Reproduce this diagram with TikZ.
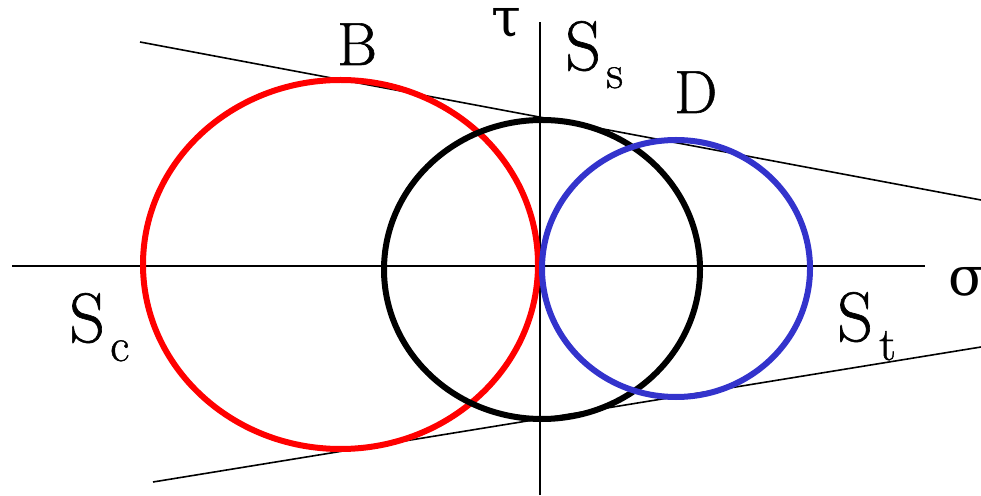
\documentclass[tikz,border=0pt]{standalone}
\usepackage{fontspec}
\newfontfamily\gserif{DejaVu Serif}
\newfontfamily\lmserif[FakeBold=0.9]{Latin Modern Roman}
\definecolor{blueC}{RGB}{51,51,204}
\definecolor{redC}{RGB}{255,0,0}
\begin{document}
\begin{tikzpicture}[x=1pt,y=1pt,
  thinline/.style={line width=1.6pt,black},
  circ/.style={line width=6pt},
  lbl/.style={inner sep=0pt,anchor=base west,font=\lmserif\fontsize{61}{70}\selectfont},
  glbl/.style={inner sep=0pt,anchor=base west,font=\gserif\fontsize{54}{62}\selectfont},
  slbl/.style={inner sep=0pt,anchor=base west,font=\lmserif\fontsize{70}{80}\selectfont},
  sub/.style={inner sep=0pt,anchor=base west,font=\lmserif\fontsize{47}{50}\selectfont}]
\useasboundingbox (0,0) rectangle (981,495);
% axes
\coordinate (hl) at (12,228.7);
\coordinate (hr) at (925,228.7);
\coordinate (vt) at (540,473);
\coordinate (vb) at (540,0);
\draw[thinline] (hl) -- (hr);
\draw[thinline] (vb) -- (vt);
% tangent lines
\coordinate (u1) at (140,453);
\coordinate (u2) at (981,295);
\coordinate (l1) at (153,13);
\coordinate (l2) at (981,148);
\draw[thinline] (u1) -- (u2);
\draw[thinline] (l1) -- (l2);
% circles
\draw[circ,redC] (340.5,230.5) ellipse [x radius=197.5pt, y radius=184.5pt];
\draw[circ,black] (542,225.5) ellipse [x radius=158pt, y radius=149.5pt];
\draw[circ,blueC] (676,226.5) ellipse [x radius=134pt, y radius=128.5pt];
% labels
\node[lbl] (B) at (337,430) {B};
\node[lbl] (D) at (674,382) {D};
\node[glbl] (tau) at (491,458) {τ};
\node[glbl] (sigma) at (948,199) {σ};
\node[slbl] (Ss) at (565,425) {S};
\node[sub] (Sss) at (606,407) {s};
\node[slbl] (Sc) at (69,153) {S};
\node[sub] (Scs) at (110,134) {c};
\node[slbl] (St) at (837,154) {S};
\node[sub] (Sts) at (879,135) {t};
\end{tikzpicture}
\end{document}
